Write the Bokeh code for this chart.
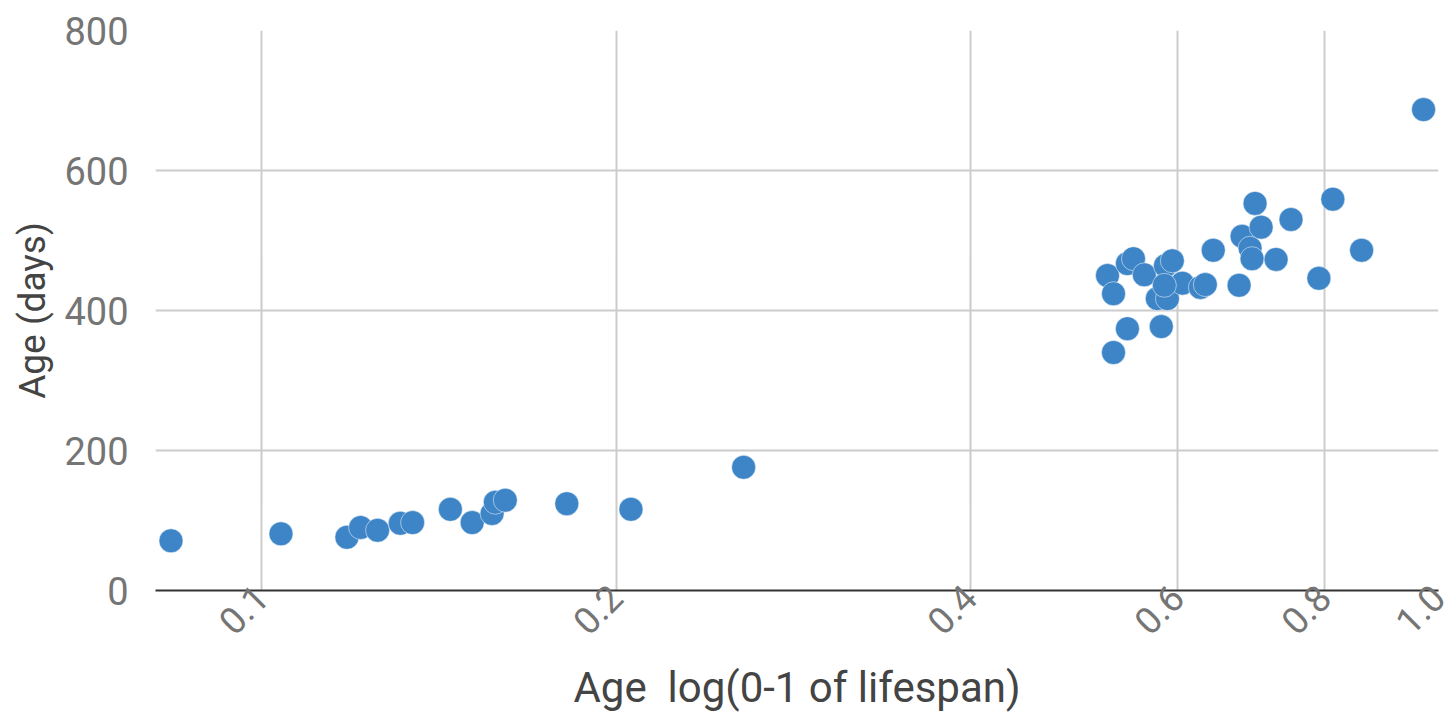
from bokeh.plotting import figure
from bokeh.models import Range1d, FixedTicker, PrintfTickFormatter, ColumnDataSource
from bokeh.embed import file_html
from bokeh.resources import INLINE
import math

# Data
lifespan_frac = [
    0.0837, 0.1038, 0.1181, 0.1213, 0.1254, 0.1311, 0.1343, 0.1446, 0.1509,
    0.1569, 0.1579, 0.1610, 0.1816, 0.2059, 0.2567,
    0.5232, 0.5294, 0.5294, 0.5440, 0.5440, 0.5505, 0.5623, 0.5813, 0.5768,
    0.5883, 0.5860, 0.5940, 0.6058, 0.5848, 0.6275, 0.6336, 0.6435, 0.6769,
    0.6809, 0.6916, 0.6943, 0.6984, 0.7067, 0.7277, 0.7493, 0.7913, 0.8132,
    0.8603, 0.9712,
]
age_days = [
    71, 81, 76, 90, 86, 96, 97, 116, 97, 110, 126, 129, 124, 116, 176,
    450, 424, 340, 374, 467, 474, 451, 377, 417, 417, 464, 471, 439, 436,
    433, 437, 486, 436, 506, 489, 474, 553, 519, 473, 530, 446, 559, 486,
    687,
]
x_ticks = [0.1, 0.2, 0.4, 0.6, 0.8, 1.0]
y_ticks = [0, 200, 400, 600, 800]
x_title = "Age \u00a0log(0-1 of lifespan)"
y_title = "Age (days)"

src = ColumnDataSource(data=dict(x=lifespan_frac, y=age_days))

p = figure(
    width=1455, height=715,
    x_axis_type="log",
    x_range=Range1d(0.0812, 1.0),
    y_range=Range1d(0, 800),
    output_backend="svg",
    toolbar_location=None,
    min_border_left=155, min_border_right=17,
    min_border_top=30, min_border_bottom=125,
)
p.outline_line_color = None
p.background_fill_color = "white"

p.scatter("x", "y", source=src, size=24, fill_color="#3d85c6",
          line_color="white", line_width=1, line_alpha=0.5)

xa = p.xaxis[0]
xa.ticker = FixedTicker(ticks=x_ticks, minor_ticks=[])
xa.formatter = PrintfTickFormatter(format="%.1f")
xa.major_label_orientation = math.pi / 4
xa.axis_label = x_title
xa.axis_line_color = "#333333"
xa.axis_line_width = 2
xa.major_tick_line_color = None
xa.minor_tick_line_color = None
xa.major_tick_out = 0
xa.major_tick_in = 0
xa.major_label_text_font = "Roboto"
xa.major_label_text_font_size = "37px"
xa.major_label_text_color = "#757575"
xa.major_label_standoff = 1
xa.axis_label_text_font = "Roboto"
xa.axis_label_text_font_size = "42px"
xa.axis_label_text_font_style = "normal"
xa.axis_label_text_color = "#444444"
xa.axis_label_standoff = 14

ya = p.yaxis[0]
ya.ticker = FixedTicker(ticks=y_ticks, minor_ticks=[])
ya.axis_label = y_title
ya.axis_line_color = None
ya.major_tick_line_color = None
ya.minor_tick_line_color = None
ya.major_tick_out = 0
ya.major_tick_in = 0
ya.major_label_text_font = "Roboto"
ya.major_label_text_font_size = "38px"
ya.major_label_text_color = "#757575"
ya.major_label_standoff = 27
ya.axis_label_text_font = "Roboto"
ya.axis_label_text_font_size = "37px"
ya.axis_label_text_font_style = "normal"
ya.axis_label_text_color = "#444444"
ya.axis_label_standoff = 7

p.xgrid.grid_line_color = "#cccccc"
p.xgrid.grid_line_width = 2
p.ygrid.grid_line_color = "#cccccc"
p.ygrid.grid_line_width = 2

open("out.html", "w").write(file_html(p, INLINE))
